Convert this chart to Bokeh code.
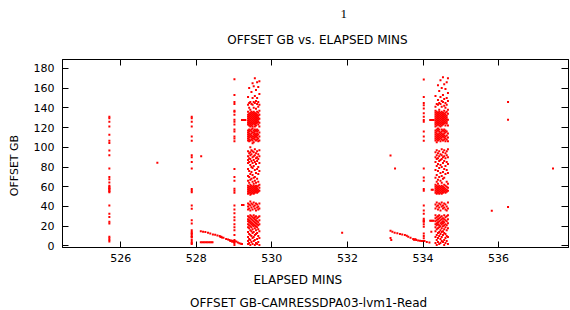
from bokeh.plotting import figure
from bokeh.models import Range1d, FixedTicker, LinearAxis, Title
from bokeh.embed import file_html
from bokeh.resources import INLINE

# ---------------- data ----------------
x_ticks = [526, 528, 530, 532, 534, 536]
y_ticks = [0, 20, 40, 60, 80, 100, 120, 140, 160, 180]

# isolated vertical columns of points: x position and their y values
col_a_x = 525.70
col_a_y = [131, 129.4, 126, 121, 112.7, 106.7, 104.4, 96.7, 92, 78.4, 70, 67.7, 64.4,
           61, 60, 59, 58, 57.7, 56, 55.5, 54.4, 41, 32.7, 29.4, 24.4, 22.7, 9.4, 7.7, 6, 4.4]
col_b_x = 527.88
col_b_y = [131, 129.4, 126, 121, 111, 106.7, 92, 90, 85, 78.4, 57.7, 56, 54.4, 41, 37.7,
           26, 22.7, 16, 14, 12.7, 12, 10, 9.4, 8.5, 6, 4, 2.7, 2]
col_c_x = 529.01
col_c_y = [169, 153, 146, 144, 137, 136, 133, 128, 126, 123, 118, 116, 111, 109, 106, 78,
           70, 66, 58, 56, 54, 41, 37, 33, 29, 26, 22, 19, 16, 11, 6, 3, 1]
col_d_x = 534.02
col_d_y = [168.7, 151, 145, 142.7, 139.4, 134.4, 131, 127.7, 126, 116, 111, 106.7, 78.4,
           69.4, 66, 57.7, 56, 41, 36, 32.7, 27.5, 26, 25, 24.4, 22, 19.4, 12.7, 10, 7.7]

# sloping runs near the bottom
diag1_x = [528.12, 528.18, 528.24, 528.31, 528.37, 528.44, 528.50, 528.56, 528.62, 528.64,
           528.66, 528.68, 528.72, 528.79, 528.84, 528.88, 528.90, 528.93, 528.95, 528.97,
           529.00, 529.02, 529.06, 529.10, 529.14, 529.18, 529.21]
diag1_y = [15.0, 14.4, 14.0, 13.4, 12.6, 11.7, 11.2, 10.6, 10.0, 9.0, 9.4, 8.5, 8.2, 7.0,
           6.5, 6.0, 5.0, 5.5, 4.2, 5.0, 3.8, 4.7, 4.4, 3.5, 2.7, 2.3, 2.0]
flat1_x = [528.12, 528.16, 528.20, 528.24, 528.28, 528.32, 528.36, 528.40, 528.43]
flat1_y = [3.7, 3.7, 3.7, 3.7, 3.7, 3.7, 3.7, 3.7, 3.7]
diag2_x = [533.14, 533.14, 533.16, 533.19, 533.25, 533.32, 533.39, 533.45, 533.52, 533.57,
           533.61, 533.67, 533.74, 533.76, 533.78, 533.80, 533.82, 533.87, 533.92, 533.96,
           534.00, 534.04, 534.10, 534.17]
diag2_y = [15.4, 8.0, 6.0, 14.4, 13.4, 12.8, 12.0, 11.5, 11.0, 10.2, 9.4, 8.2, 7.0, 6.2,
           6.6, 6.8, 6.0, 5.6, 5.2, 5.0, 5.0, 5.0, 4.0, 3.4]

# short horizontal dashes and single points
dash_x = [529.21, 529.24, 529.27, 529.30, 529.21, 529.25,
          534.19, 534.22, 534.25, 534.28, 534.23, 534.26, 534.19, 534.22, 534.25, 534.28, 534.22]
dash_y = [127.7, 127.7, 127.7, 127.7, 41.4, 41.4,
          127.7, 127.7, 127.7, 127.7, 57, 57, 25.5, 25.5, 25.5, 25.5, 14.4]
lone_x = [526.97, 528.13, 531.86, 533.14, 533.26, 535.82, 536.25, 536.25, 536.25, 537.44]
lone_y = [84.4, 91, 13.4, 91.7, 78.4, 35.6, 145.9, 128, 39.5, 78.6]

# dense block 1 (columns left to right)
b1_x = [529.37, 529.40, 529.43, 529.46, 529.49, 529.52, 529.55, 529.58, 529.61, 529.64, 529.67]
b1_c1 = [151, 143, 136, 133, 131, 129, 127, 125, 123, 117, 115, 113, 111, 109, 107, 96, 91, 87, 84, 78, 71, 66, 61, 59, 57, 55, 53, 43, 40, 37, 30, 27, 25, 22, 19, 14, 9, 5, 2]
b1_c2 = [160, 145, 140, 134, 132, 130, 128, 126, 124, 122, 118, 116, 114, 112, 110, 108, 106, 94, 89, 85, 76, 70, 64, 60, 58, 56, 54, 42, 38, 29, 26, 24, 21, 18, 12, 7, 3]
b1_c3 = [146, 138, 135, 133, 131, 129, 127, 125, 123, 121, 117, 113, 111, 107, 100, 95, 92, 88, 82, 73, 67, 62, 60, 58, 56, 54, 52, 45, 41, 36, 31, 28, 25, 23, 20, 16, 11, 6, 1]
b1_c4 = [156, 144, 136, 134, 132, 130, 128, 126, 124, 122, 118, 116, 114, 112, 110, 108, 97, 93, 86, 80, 75, 68, 61, 59, 57, 55, 53, 43, 39, 30, 27, 24, 22, 19, 15, 10, 4]
b1_c5 = [165, 150, 143, 135, 133, 131, 129, 127, 125, 123, 121, 119, 115, 111, 109, 107, 104, 96, 90, 84, 79, 72, 65, 60, 58, 56, 54, 42, 37, 29, 26, 23, 21, 17, 13, 8, 2]
b1_c6 = [162, 146, 140, 136, 134, 132, 130, 128, 126, 124, 117, 115, 113, 111, 109, 105, 95, 91, 87, 81, 69, 63, 61, 59, 57, 55, 53, 44, 40, 31, 28, 25, 22, 20, 14, 9, 5]
b1_c7 = [170, 152, 145, 135, 133, 131, 129, 127, 125, 123, 121, 118, 116, 114, 112, 110, 108, 98, 92, 85, 77, 70, 66, 60, 58, 56, 54, 41, 38, 29, 27, 24, 21, 18, 11, 6, 1]
b1_c8 = [158, 147, 139, 134, 132, 130, 128, 126, 124, 122, 117, 113, 111, 107, 94, 89, 83, 74, 64, 61, 59, 57, 55, 43, 36, 30, 26, 23, 20, 16, 12, 3]
b1_c9 = [166, 150, 144, 136, 133, 131, 129, 127, 125, 118, 116, 114, 112, 110, 108, 96, 90, 86, 78, 68, 60, 58, 56, 54, 42, 39, 28, 25, 22, 19, 13, 7, 2]
b1_c10 = [161, 146, 141, 135, 132, 130, 128, 126, 123, 117, 113, 109, 106, 93, 88, 80, 73, 65, 61, 57, 55, 40, 37, 29, 24, 21, 17, 10, 4]
b1_c11 = [167, 154, 143, 137, 133, 129, 125, 121, 115, 111, 107, 97, 91, 84, 76, 62, 59, 56, 43, 38, 30, 26, 22, 15, 8, 1]

# dense block 2 (columns left to right)
b2_x = [534.33, 534.363, 534.396, 534.429, 534.462, 534.495, 534.528, 534.561, 534.594, 534.627, 534.66]
b2_c1 = [152, 141, 137, 135, 133, 131, 129, 127, 125, 123, 121, 117, 115, 113, 111, 109, 107, 95, 90, 85, 77, 69, 62, 60, 58, 56, 54, 42, 38, 31, 28, 25, 22, 19, 15, 9, 3]
b2_c2 = [144, 136, 134, 132, 130, 128, 126, 124, 122, 118, 116, 114, 112, 110, 108, 105, 97, 92, 88, 81, 72, 65, 61, 59, 57, 55, 53, 44, 40, 29, 26, 23, 21, 17, 11, 6, 1]
b2_c3 = [163, 148, 143, 135, 133, 131, 129, 127, 125, 123, 119, 117, 113, 111, 109, 107, 94, 89, 83, 76, 67, 63, 60, 58, 56, 54, 41, 37, 30, 27, 24, 22, 18, 13, 8, 4]
b2_c4 = [157, 145, 138, 136, 134, 132, 130, 128, 126, 124, 122, 118, 116, 114, 112, 110, 108, 96, 91, 86, 79, 70, 61, 59, 57, 55, 53, 43, 39, 31, 28, 25, 21, 19, 14, 10, 2]
b2_c5 = [168, 151, 144, 135, 133, 131, 129, 127, 125, 123, 121, 115, 113, 111, 109, 106, 93, 87, 82, 74, 66, 60, 58, 56, 54, 42, 36, 29, 26, 23, 20, 16, 12, 7, 3]
b2_c6 = [160, 147, 141, 136, 134, 132, 130, 128, 126, 124, 122, 118, 116, 114, 112, 110, 108, 98, 92, 88, 80, 71, 64, 61, 59, 57, 55, 53, 44, 40, 30, 27, 24, 22, 18, 14, 9, 5]
b2_c7 = [171, 153, 146, 135, 133, 131, 129, 127, 125, 123, 117, 113, 111, 107, 95, 90, 84, 75, 68, 60, 58, 56, 54, 41, 38, 28, 25, 23, 20, 15, 11, 4]
b2_c8 = [164, 149, 142, 137, 134, 132, 130, 128, 126, 124, 118, 116, 114, 112, 110, 108, 97, 91, 86, 78, 69, 62, 59, 57, 55, 43, 39, 31, 27, 24, 21, 17, 13, 6, 1]
b2_c9 = [159, 145, 140, 135, 133, 131, 129, 127, 125, 122, 117, 115, 111, 109, 106, 94, 89, 81, 73, 61, 58, 56, 54, 42, 37, 29, 26, 22, 19, 12, 8, 3]
b2_c10 = [166, 150, 143, 136, 132, 130, 128, 126, 124, 116, 112, 108, 96, 92, 85, 77, 65, 60, 57, 55, 40, 36, 30, 25, 21, 16, 10, 5]
b2_c11 = [170, 155, 147, 138, 134, 128, 122, 114, 110, 106, 98, 90, 83, 74, 63, 59, 56, 44, 38, 31, 27, 23, 18, 9, 2]

series_label = "OFFSET GB-CAMRESSDPA03-lvm1-Read"
title_text = "OFFSET GB vs. ELAPSED MINS"
x_label = "ELAPSED MINS"
y_label = "OFFSET GB"
page_number = "1"

# ---------------- assemble point table ----------------
xs, ys = [], []


def add_column(x, y_list):
    xs.extend([x] * len(y_list))
    ys.extend(y_list)


def add_pairs(x_list, y_list):
    xs.extend(x_list)
    ys.extend(y_list)


for cx, cy in [(col_a_x, col_a_y), (col_b_x, col_b_y), (col_c_x, col_c_y), (col_d_x, col_d_y)]:
    add_column(cx, cy)
for px_, py_ in [(diag1_x, diag1_y), (flat1_x, flat1_y), (diag2_x, diag2_y),
                 (dash_x, dash_y), (lone_x, lone_y)]:
    add_pairs(px_, py_)
b1_cols = [b1_c1, b1_c2, b1_c3, b1_c4, b1_c5, b1_c6, b1_c7, b1_c8, b1_c9, b1_c10, b1_c11]
b2_cols = [b2_c1, b2_c2, b2_c3, b2_c4, b2_c5, b2_c6, b2_c7, b2_c8, b2_c9, b2_c10, b2_c11]
for cx, cy in zip(b1_x, b1_cols):
    add_column(cx, cy)
for cx, cy in zip(b2_x, b2_cols):
    add_column(cx, cy)

# ---------------- figure ----------------
FONT = "DejaVu Sans"
p = figure(width=570, height=310, output_backend="svg", toolbar_location=None,
           x_range=Range1d(524.46, 537.85), y_range=Range1d(-1.6, 189.0),
           min_border_left=58, min_border_right=2, min_border_top=59, min_border_bottom=61)
p.background_fill_color = "white"
p.border_fill_color = "white"
p.outline_line_color = "black"
p.outline_line_width = 1
p.xgrid.visible = False
p.ygrid.visible = False

for ax, ticks, so in [(p.xaxis[0], x_ticks, 6), (p.yaxis[0], y_ticks, 8)]:
    ax.ticker = FixedTicker(ticks=ticks)
    ax.major_tick_in = 6
    ax.major_tick_out = 0
    ax.minor_tick_line_color = None
    ax.axis_line_color = "black"
    ax.major_tick_line_color = "black"
    ax.major_label_text_font = FONT
    ax.major_label_text_font_size = "11px"
    ax.major_label_text_color = "black"
    ax.major_label_standoff = so

# mirrored tick marks on top and right (no labels drawn)
top_ax = LinearAxis(ticker=FixedTicker(ticks=x_ticks), major_label_text_font_size="1px",
                    major_label_text_color=None, major_label_standoff=0,
                    major_tick_in=6, major_tick_out=0,
                    minor_tick_line_color=None, axis_line_color="black")
right_ax = LinearAxis(ticker=FixedTicker(ticks=y_ticks), major_label_text_font_size="1px",
                      major_label_text_color=None, major_label_standoff=0,
                      major_tick_in=7, major_tick_out=0,
                      minor_tick_line_color=None, axis_line_color="black")
p.add_layout(top_ax, "above")
p.add_layout(right_ax, "right")

p.scatter(xs, ys, marker="square", size=2, fill_color="#ff0000", line_color=None)


def ttl(text, offset, standoff, size="12px", valign="middle", font=FONT, color="black"):
    return Title(text=text, align="left", offset=offset, standoff=standoff,
                 vertical_align=valign, text_font=font, text_font_size=size,
                 text_font_style="normal", text_color=color)


p.add_layout(ttl(title_text, 164.7, 24), "above")
p.add_layout(ttl(page_number, 278, 0, size="13px", valign="top", font="Liberation Serif"), "above")
p.add_layout(ttl(x_label, 191, 14), "below")
p.add_layout(ttl(series_label, 127.5, 0), "below")
p.add_layout(ttl(y_label, 51.3, 15, size="11px", valign="top"), "left")

open("out.html", "w").write(file_html(p, INLINE))
